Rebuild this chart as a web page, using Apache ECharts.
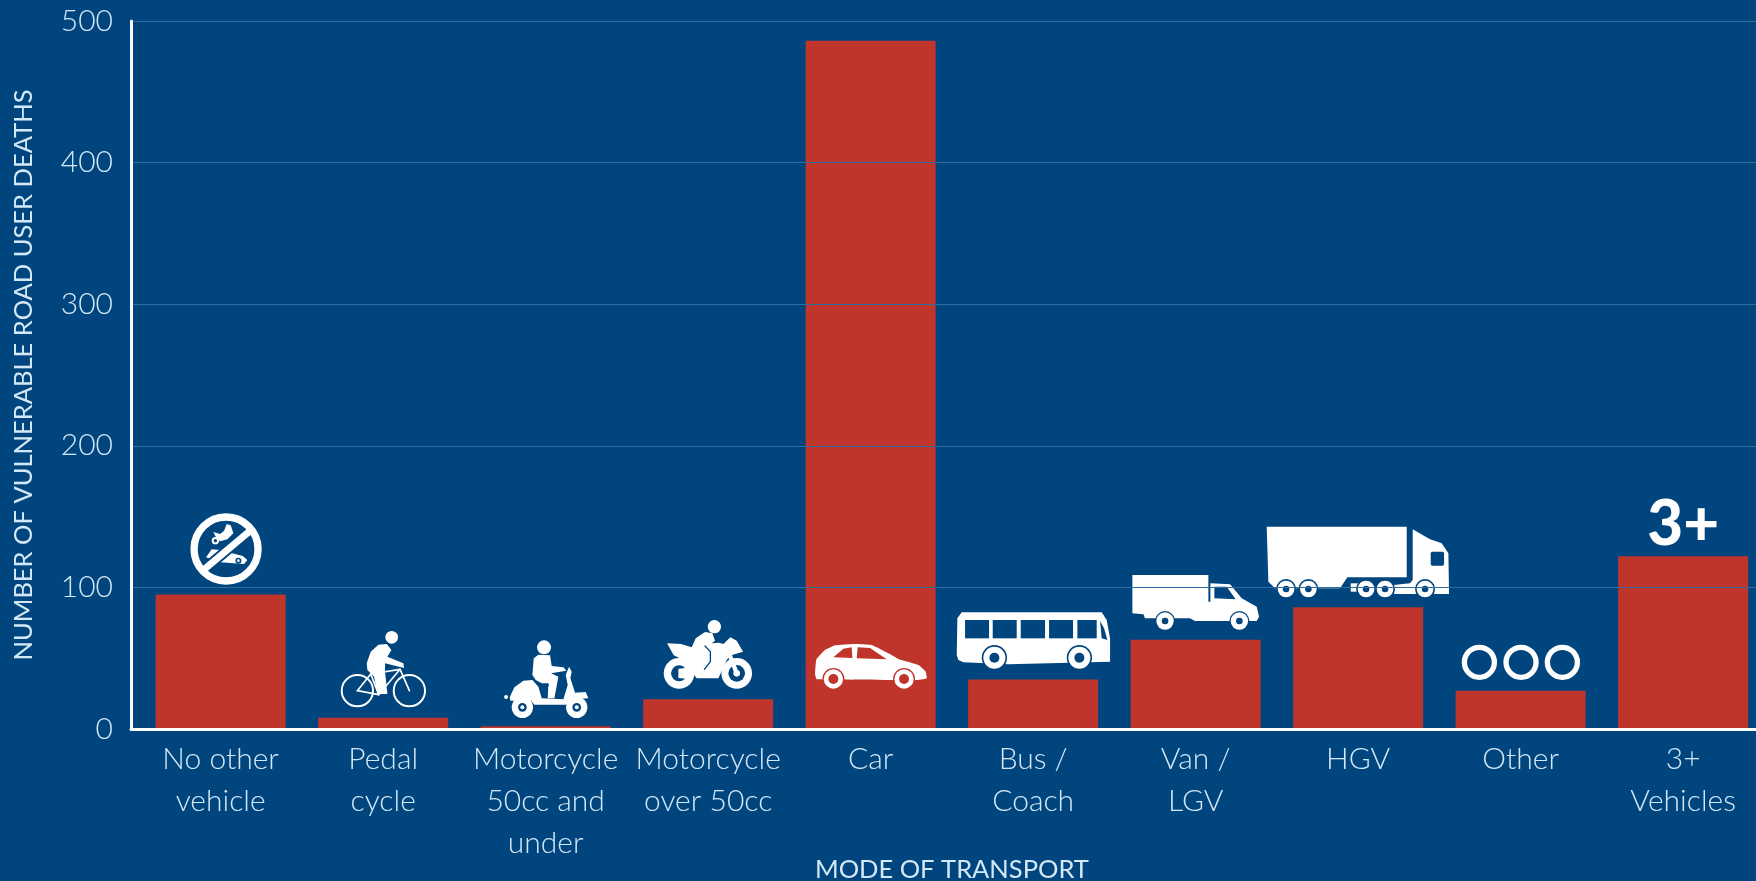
<!DOCTYPE html>
<html><head><meta charset="utf-8">
<style>html,body{margin:0;padding:0;background:#00457e}#c{width:1756px;height:881px}</style>
<script src="https://cdn.jsdelivr.net/npm/echarts@6/dist/echarts.min.js"></script>
</head><body><div id="c"></div>
<script>
const categories = ['No other\nvehicle','Pedal\ncycle','Motorcycle\n50cc and\nunder','Motorcycle\nover 50cc','Car','Bus /\nCoach','Van /\nLGV','HGV','Other','3+\nVehicles'];
const deaths = [95, 8, 2, 21, 486, 35, 63, 86, 27, 122];
const yTicks = {min:0, max:500, interval:100};
const yName = 'NUMBER OF VULNERABLE ROAD USER DEATHS';
const xName = 'MODE OF TRANSPORT';

const BG='#00457e', RED='#c0352b', W='#ffffff', TXT='#d3e8f6', GRIDC='#2f6da1';
const C=(cx,cy,r,fill)=>({type:'circle',shape:{cx,cy,r},style:{fill}});
const O=(cx,cy,r,stroke,lineWidth)=>({type:'circle',shape:{cx,cy,r},style:{fill:'none',stroke,lineWidth}});
const P=(pts,fill,smooth)=>({type:'polygon',shape:{points:pts,smooth:smooth||0},style:{fill}});
const L=(pts,stroke,lineWidth)=>({type:'polyline',shape:{points:pts},style:{fill:'none',stroke,lineWidth,lineCap:'round',lineJoin:'round'}});
const R=(x,y,width,height,fill,r)=>({type:'rect',shape:{x,y,width,height,r:r||0},style:{fill}});
const wheel=(x,y,r,hub,gap,back)=>[C(x,y,r+gap,back||BG),C(x,y,r,W),C(x,y,hub,back||BG)];

const icons=[
 {dx:-50.6,dy:-229,draw:[
   C(136,122,11,W),C(136,122,5,BG),
   P([[130,96],[150,102],[162,92],[170,72],[182,76],[190,100],[172,118],[150,124],[138,112]],W),
   P([[108,172],[125,148],[150,150],[172,156],[218,168],[232,180],[222,192],[140,186],[125,178]],W),
   C(205,182,9,BG),C(205,182,4,W),
   L([[98,212],[238,94]],BG,32),L([[98,212],[238,94]],W,21),O(168,147,96,W,22)]},
 {dx:-53.1,dy:-109,draw:[
   O(82,212,47,W,6),O(238,212,47,W,6),
   L([[82,212],[122,162],[210,148],[238,212]],W,5),L([[122,162],[146,224],[210,148]],W,5),L([[82,212],[146,224]],W,5),
   C(185,52,19,W),
   P([[110,130],[122,95],[145,74],[170,72],[184,90],[172,110],[220,130],[222,144],[165,130],[165,155],[172,222],[142,222],[132,170],[112,150]],W)]},
 {dx:-50.6,dy:-99,draw:[
   ...wheel(82,232,32,13,0,BG),...wheel(245,232,32,13,0,BG),C(82,232,6,W),C(245,232,6,W),
   C(33,201,6,W),
   P([[44,202],[58,172],[85,152],[112,150],[130,170],[140,205],[205,208],[218,165],[212,135],[222,110],[230,125],[226,145],[240,188],[272,186],[280,205],[232,208],[212,224],[118,224],[108,212],[46,212]],W),
   P([[116,85],[130,74],[165,76],[170,108],[205,112],[214,122],[168,130],[190,140],[178,205],[158,205],[160,160],[140,160],[122,150],[112,135]],W),
   L([[150,200],[150,178],[158,165]],BG,7),
   C(147,52,21,W)]},
 {dx:-53.1,dy:-119,draw:[
   C(72,190,46,W),C(72,190,24,BG),P([[70,176],[112,172],[112,208],[70,204]],W),
   C(245,190,46,W),C(245,190,25,BG),C(245,190,10,W),
   L([[222,130],[245,190]],W,13),
   P([[36,100],[78,102],[110,112],[122,85],[150,66],[172,70],[180,92],[170,100],[192,98],[205,102],[226,82],[245,92],[264,125],[228,136],[215,150],[190,205],[125,205],[105,180],[85,150],[56,136]],W),
   L([[150,108],[166,125],[166,155],[148,178]],BG,4),
   C(178,50,20,W)]},
 {dx:-65.6,dy:-99,draw:[
   P([[30,132],[34,88],[60,60],[90,46],[150,42],[200,45],[250,70],[282,88],[340,105],[362,125],[365,145],[340,150],[35,148]],W,0.1),
   P([[85,82],[115,56],[140,52],[142,84]],RED),P([[155,85],[158,52],[195,54],[245,88]],RED),
   ...wheel(85,147,29,15,4,RED),...wheel(297,147,29,15,4,RED)]},
 {dx:-83.1,dy:-124,draw:[
   P([[35,22],[455,22],[470,45],[480,100],[480,170],[175,178],[40,172],[25,165],[20,150],[22,40]],W),
   R(45,45,72,55,BG),R(128,45,72,55,BG),R(212,45,73,55,BG),R(297,45,72,55,BG),R(382,45,58,55,BG),
   P([[450,48],[462,70],[472,105],[455,100]],BG),
   ...wheel(133,158,33,15,5,BG),...wheel(388,158,33,15,5,BG)]},
 {dx:-70.6,dy:-164,draw:[
   P([[22,30],[250,30],[250,160],[60,160],[55,148],[22,145]],W),
   P([[256,55],[315,58],[350,100],[395,125],[402,155],[395,168],[210,168],[195,160],[200,110],[256,110]],W),
   P([[268,65],[305,65],[332,103],[268,100]],BG),
   ...wheel(120,168,26,10,4,BG),...wheel(343,168,26,10,4,BG)]},
 {dx:-98.1,dy:-209,draw:[
   P([[20,20],[440,20],[440,172],[262,172],[240,205],[45,205],[25,185]],W),
   P([[458,28],[510,58],[545,70],[565,100],[567,222],[400,222],[400,195],[450,190],[458,180]],W),
   R(512,95,40,42,BG,5),R(272,190,25,25,W),
   ...wheel(78,207,25,10,5,BG),...wheel(145,207,25,10,5,BG),
   ...wheel(318,207,25,10,5,BG),...wheel(375,207,25,10,5,BG),...wheel(495,207,25,10,5,BG)]},
 {dx:-70.6,dy:-239,draw:[O(88,517,45,W,16),O(213,517,45,W,16),O(337,517,45,W,16)]},
 {dx:0,dy:-204,draw:[{type:'text',style:{text:'3+',x:0,y:0,fill:W,font:'900 186px Lato',textAlign:'center',textVerticalAlign:'middle'}}]}
];

const axisText={color:TXT,fontFamily:'Lato',fontWeight:300};
const chart=echarts.init(document.getElementById('c'),null,{renderer:'canvas'});
chart.setOption({
  animation:false,
  backgroundColor:BG,
  grid:[{left:131,top:21,width:1625,height:708,containLabel:false,outerBoundsMode:'none'},
        {left:139.4,top:21,width:1625,height:708,containLabel:false,outerBoundsMode:'none'}],
  xAxis:[
    {type:'category',gridIndex:0,data:categories,z:6,
     axisLine:{show:true,onZero:false,lineStyle:{color:W,width:3}},axisTick:{show:false},axisLabel:{show:false},splitLine:{show:false}},
    {type:'category',gridIndex:1,data:categories,
     axisLine:{show:false},axisTick:{show:false},splitLine:{show:false},
     axisLabel:{...axisText,interval:0,fontSize:30,lineHeight:42,margin:9,align:'center',verticalAlign:'top'},
     name:xName,nameLocation:'middle',nameGap:128,nameMoveOverlap:false,
     nameTextStyle:{color:TXT,fontFamily:'Lato',fontSize:25.5,fontWeight:400}}
  ],
  yAxis:[
    {type:'value',gridIndex:0,...yTicks,z:6,
     axisLine:{show:true,lineStyle:{color:W,width:3}},axisTick:{show:false},
     axisLabel:{...axisText,fontSize:30,margin:18},
     splitLine:{show:true,lineStyle:{color:GRIDC,width:1.2}},
     name:yName,nameLocation:'middle',nameGap:94,nameRotate:90,
     nameTextStyle:{color:TXT,fontFamily:'Lato',fontSize:25.5,fontWeight:400}},
    {type:'value',gridIndex:1,...yTicks,show:false}
  ],
  series:[
    {type:'bar',xAxisIndex:1,yAxisIndex:1,data:deaths,barWidth:130,itemStyle:{color:RED},z:2,silent:true},
    {type:'custom',xAxisIndex:1,yAxisIndex:1,z:4,clip:false,silent:true,
     data:deaths.map((v,i)=>[i,v]),encode:{x:0,y:1},
     renderItem:(params,api)=>{
       const i=api.value(0), base=api.coord([i,0]), ic=icons[i];
       return {type:'group',x:base[0]+ic.dx,y:base[1]+ic.dy,scaleX:1/3,scaleY:1/3,children:ic.draw};
     }}
  ]
});
</script></body></html>
